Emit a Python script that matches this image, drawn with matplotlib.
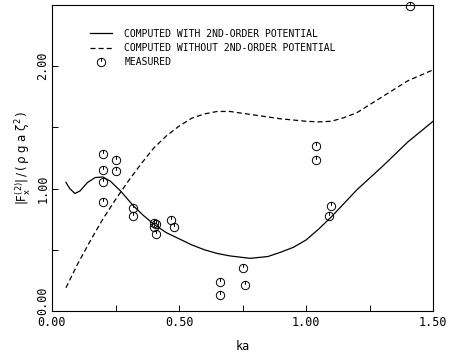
import numpy as np
import matplotlib
matplotlib.use("Agg")
from matplotlib import pyplot as plt
from matplotlib.path import Path
import matplotlib.transforms as mtransforms

# curve with 2nd-order potential
ka_solid = [0.055, 0.07, 0.09, 0.11, 0.14, 0.17, 0.20, 0.23, 0.27, 0.32, 0.36, 0.40,
            0.45, 0.50, 0.55, 0.60, 0.65, 0.70, 0.78, 0.85, 0.90, 0.95, 1.00, 1.05,
            1.10, 1.15, 1.20, 1.30, 1.40, 1.50]
f_solid = [1.05, 1.00, 0.96, 0.98, 1.05, 1.09, 1.095, 1.06, 0.98, 0.86, 0.78, 0.71,
           0.64, 0.59, 0.54, 0.50, 0.47, 0.45, 0.43, 0.445, 0.48, 0.52, 0.58, 0.67,
           0.77, 0.88, 0.99, 1.18, 1.38, 1.55]

# curve without 2nd-order potential
ka_dash = [0.055, 0.10, 0.15, 0.20, 0.25, 0.30, 0.35, 0.40, 0.45, 0.50, 0.55, 0.60,
           0.65, 0.70, 0.75, 0.80, 0.90, 1.00, 1.05, 1.10, 1.15, 1.20, 1.30, 1.40, 1.50]
f_dash = [0.19, 0.38, 0.57, 0.75, 0.91, 1.06, 1.20, 1.33, 1.43, 1.51, 1.575, 1.61,
          1.63, 1.63, 1.615, 1.60, 1.57, 1.55, 1.545, 1.55, 1.58, 1.62, 1.75, 1.88, 1.97]

# measured
ka_meas = [0.20, 0.25, 0.20, 0.25, 0.20, 0.20, 0.32, 0.32, 0.40, 0.41, 0.40, 0.41,
           0.47, 0.48, 0.75, 0.66, 0.76, 0.66, 1.04, 1.04, 1.10, 1.09, 1.41]
f_meas = [1.28, 1.23, 1.15, 1.14, 1.05, 0.89, 0.84, 0.78, 0.72, 0.71, 0.69, 0.63,
          0.74, 0.69, 0.35, 0.24, 0.21, 0.13, 1.35, 1.23, 0.86, 0.78, 2.49]

plt.rcParams['font.family'] = 'DejaVu Sans Mono'
plt.rcParams['mathtext.fontset'] = 'dejavusans'

# circle with a little tick, like the plotter symbol
circ = Path.unit_circle()
tick = Path([(0, 0.15), (0, 1.0)], [Path.MOVETO, Path.LINETO])
marker = Path.make_compound_path(circ, tick)

fig = plt.figure(figsize=(4.54, 3.55), dpi=100)
ax = fig.add_axes([0.1145, 0.124, 0.8395, 0.862])

ax.plot(ka_solid, f_solid, color='black', lw=0.9,
        label='COMPUTED WITH 2ND-ORDER POTENTIAL')
ax.plot(ka_dash, f_dash, color='black', lw=0.9, dashes=(4, 2.5),
        label='COMPUTED WITHOUT 2ND-ORDER POTENTIAL')
ax.plot(ka_meas, f_meas, ls='none', marker=marker, ms=6, mfc='none', mec='black',
        mew=0.7, clip_on=False, label='MEASURED')

ax.set_xlim(0, 1.5)
ax.set_ylim(0, 2.5)
ax.set_xticks([0, 0.5, 1.0, 1.5])
ax.set_xticks([0.25, 0.75, 1.25], minor=True)
ax.set_yticks([0, 1.0, 2.0])
ax.set_yticks([0.5, 1.5], minor=True)
ax.set_xticklabels(['0.00', '0.50', '1.00', '1.50'])
ax.set_yticklabels(['0.00', '1.00', '2.00'], rotation=90, va='center')
ax.tick_params(which='both', direction='in', length=4, width=0.7, labelsize=8.5)
ax.tick_params(axis='y', pad=2)
for s in ax.spines.values():
    s.set_linewidth(0.8)

# lift the bottom y label a bit so it clears the x label
lab0 = ax.get_yticklabels()[0]
lab0.set_transform(lab0.get_transform() +
                   mtransforms.ScaledTranslation(0, 10 / 100, fig.dpi_scale_trans))

ax.set_xlabel('ka', fontsize=8.5, labelpad=8)
ax.set_ylabel(r'$\mathrm{|F_x^{(2)}|\,/\,(\,\rho\ g\ a\ \zeta^2\,)}$',
              fontsize=8.5, labelpad=2)

ax.legend(loc='upper left', bbox_to_anchor=(0.09, 0.935), frameon=False,
          fontsize=7, handlelength=2.2, handletextpad=1.3, labelspacing=0.45,
          borderaxespad=0)

fig.savefig('out.png', dpi=100)
